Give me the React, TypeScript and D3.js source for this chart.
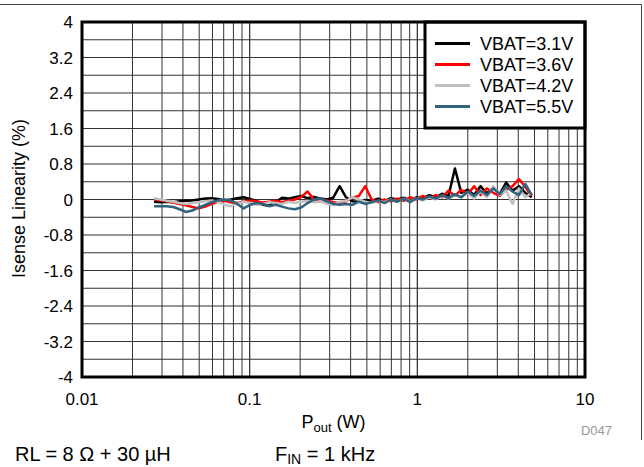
import React from "react";
import * as d3 from "d3";

const pout = [
  0.0269, 0.0293, 0.032, 0.035, 0.0382, 0.0417, 0.0455, 0.0497, 0.0543, 0.0593,
  0.0647, 0.0707, 0.0772, 0.0843, 0.092, 0.1005, 0.1097, 0.1198, 0.1308, 0.1428,
  0.156, 0.1703, 0.1859, 0.203, 0.2217, 0.2421, 0.2643, 0.2886, 0.3151, 0.3441,
  0.3757, 0.4102, 0.4479, 0.4891, 0.534, 0.5831, 0.6367, 0.6952, 0.7591, 0.8289,
  0.9051, 0.9883, 1.079, 1.178, 1.287, 1.405, 1.534, 1.675, 1.829, 1.997,
  2.181, 2.381, 2.6, 2.839, 3.1, 3.385, 3.696, 4.036, 4.407, 4.812,
];

const vbat31 = [
  -0.05, -0.06, -0.05, -0.06, -0.04, -0.03, -0.02, 0.0, 0.02, 0.03,
  0.01, -0.02, 0.0, 0.03, 0.05, 0.01, -0.03, -0.12, -0.14, -0.06,
  0.04, 0.02, 0.05, 0.08, 0.03, 0.06, 0.02, 0.0, 0.04, 0.3,
  0.05, -0.04, -0.05, -0.01, -0.03, 0.02, -0.04, 0.03, 0.0, 0.04,
  -0.02, 0.05, 0.02, 0.1, 0.05, 0.13, 0.08, 0.7, 0.15, 0.22,
  0.1, 0.3, 0.14, 0.26, 0.12, 0.38, 0.2, 0.3, 0.15, 0.05,
];

const vbat36 = [
  0.0, -0.02, -0.04, -0.07, -0.1, -0.13, -0.17, -0.2, -0.16, -0.1,
  -0.05, -0.03, -0.06, -0.08, -0.05, -0.02, -0.04, -0.07, -0.05, -0.03,
  -0.06, -0.03, 0.0, 0.06, 0.18, 0.0, -0.05, -0.02, -0.06, -0.08,
  -0.04, 0.04, 0.08, 0.3, 0.0, -0.06, 0.0, -0.04, 0.02, -0.03,
  0.05, 0.0, 0.08, 0.02, 0.1, 0.05, 0.2, 0.08, 0.22, 0.12,
  0.3, 0.1, 0.25, 0.15, 0.08, 0.22, 0.3, 0.46, 0.28, 0.08,
];

const vbat42 = [
  0.03, 0.0, -0.03, -0.05, -0.08, -0.1, -0.08, -0.06, -0.04, -0.02,
  -0.05, -0.12, -0.15, -0.1, -0.05, -0.08, -0.12, -0.1, -0.06, -0.08,
  -0.1, -0.05, -0.08, -0.05, -0.03, -0.06, -0.04, -0.1, -0.12, -0.05,
  -0.03, 0.05, 0.0, -0.05, -0.08, -0.03, -0.06, 0.0, -0.05, 0.02,
  -0.04, 0.03, -0.02, 0.05, 0.0, 0.08, 0.02, 0.1, 0.05, 0.15,
  0.02, 0.18, 0.05, 0.3, 0.1, 0.2, -0.1, 0.25, 0.05, 0.15,
];

const vbat55 = [
  -0.15, -0.15, -0.15, -0.17, -0.22, -0.28, -0.25, -0.18, -0.12, -0.06,
  -0.02, 0.0, -0.02, -0.1, -0.2, -0.12, -0.08, -0.1, -0.15, -0.12,
  -0.16, -0.2, -0.22, -0.18, -0.08, 0.0, 0.03, -0.04, -0.1, -0.12,
  -0.1, -0.12, -0.05, -0.1, -0.06, -0.02, -0.08, 0.0, -0.05, 0.02,
  -0.06, 0.03, 0.0, 0.07, 0.02, 0.1, 0.03, 0.12, 0.05, 0.18,
  0.08, 0.2, 0.1, 0.25, 0.12, 0.3, 0.18, 0.1, 0.35, 0.1,
];

const seriesNames = ["VBAT=3.1V", "VBAT=3.6V", "VBAT=4.2V", "VBAT=5.5V"];
const seriesColors = ["#000000", "#FF0000", "#C0C0C0", "#31637E"];
const seriesValues = [vbat31, vbat36, vbat42, vbat55];

const xTickValues = [0.01, 0.1, 1, 10];
const xTickLabels = ["0.01", "0.1", "1", "10"];
const yTickValues = [4, 3.2, 2.4, 1.6, 0.8, 0, -0.8, -1.6, -2.4, -3.2, -4];
const yTickLabels = ["4", "3.2", "2.4", "1.6", "0.8", "0", "-0.8", "-1.6", "-2.4", "-3.2", "-4"];
const yGridValues = d3.range(-40, 41, 4).map((v) => v / 10);

const FONT = "'Liberation Sans', Arial, Helvetica, sans-serif";

export default function App() {
  const W = 644;
  const H = 467;
  const left = 82;
  const right = 585;
  const top = 22;
  const bottom = 377;

  const x = d3.scaleLog().domain([0.01, 10]).range([left, right]);
  const y = d3.scaleLinear().domain([-4, 4]).range([bottom, top]);

  const xGrid: number[] = [];
  [0.01, 0.1, 1].forEach((dec) => {
    for (let k = 1; k <= 10; k++) xGrid.push(dec * k);
  });

  const line = d3
    .line<[number, number]>()
    .x((d) => x(d[0]))
    .y((d) => y(d[1]));

  const legX = 425;
  const legY = 22;
  const legW = 160;
  const legH = 106;
  const rowY = [43.5, 64.5, 85.5, 106.5];

  return (
    <svg
      width={W}
      height={H}
      style={{ position: "absolute", left: 0, top: 0, background: "#fff" }}
      fontFamily={FONT}
    >
      <rect x={0} y={0} width={W} height={H} fill="#fff" />
      {/* outer frame */}
      <line x1={0} y1={4.5} x2={641.5} y2={4.5} stroke="#444" strokeWidth={1} />
      <line x1={641.5} y1={4.5} x2={641.5} y2={440} stroke="#444" strokeWidth={1} />

      {/* grid */}
      {yGridValues.map((v, i) => (
        <line key={"hy" + i} x1={left} x2={right} y1={y(v)} y2={y(v)} stroke="#333" strokeWidth={1} />
      ))}
      {xGrid.map((v, i) => (
        <line key={"vx" + i} x1={x(v)} x2={x(v)} y1={top} y2={bottom} stroke="#333" strokeWidth={1} />
      ))}

      {/* series */}
      {seriesValues.map((vals, si) => (
        <path
          key={"s" + si}
          d={line(pout.map((p, i) => [p, vals[i]] as [number, number])) || ""}
          fill="none"
          stroke={seriesColors[si]}
          strokeWidth={2.5}
          strokeLinejoin="round"
        />
      ))}

      {/* legend */}
      <rect x={legX} y={legY} width={legW} height={legH} fill="#fff" stroke="#000" strokeWidth={3} />
      {seriesNames.map((name, i) => (
        <g key={"l" + i}>
          <line x1={435} x2={470} y1={rowY[i]} y2={rowY[i]} stroke={seriesColors[i]} strokeWidth={3} />
          <text x={480} y={rowY[i] + 6.5} fontSize={18} fill="#000">
            {name}
          </text>
        </g>
      ))}

      {/* plot border */}
      <rect x={left} y={top} width={right - left} height={bottom - top} fill="none" stroke="#000" strokeWidth={3} />

      {/* y ticks */}
      {yTickValues.map((v, i) => (
        <text key={"yt" + i} x={73} y={y(v) + 6} fontSize={17} textAnchor="end" fill="#000">
          {yTickLabels[i]}
        </text>
      ))}
      {/* x ticks */}
      {xTickValues.map((v, i) => (
        <text key={"xt" + i} x={x(v)} y={405} fontSize={17} textAnchor="middle" fill="#000">
          {xTickLabels[i]}
        </text>
      ))}

      {/* axis titles */}
      <text x={(left + right) / 2} y={428} fontSize={18} textAnchor="middle" fill="#000">
        P<tspan dy={4} fontSize={13}>out</tspan>
        <tspan dy={-4}> (W)</tspan>
      </text>
      <text
        transform={`translate(25, ${(top + bottom) / 2 - 1}) rotate(-90)`}
        fontSize={18}
        textAnchor="middle"
        fill="#000"
      >
        Isense Linearity (%)
      </text>

      <text x={612} y={435} fontSize={13} textAnchor="end" fill="#999">
        D047
      </text>

      <text x={15} y={461} fontSize={20} fill="#000">
        RL = 8 Ω + 30 µH
      </text>
      <text x={275} y={461} fontSize={20} fill="#000">
        F<tspan dy={2.5} fontSize={14}>IN</tspan>
        <tspan dy={-2.5}> = 1 kHz</tspan>
      </text>
    </svg>
  );
}
